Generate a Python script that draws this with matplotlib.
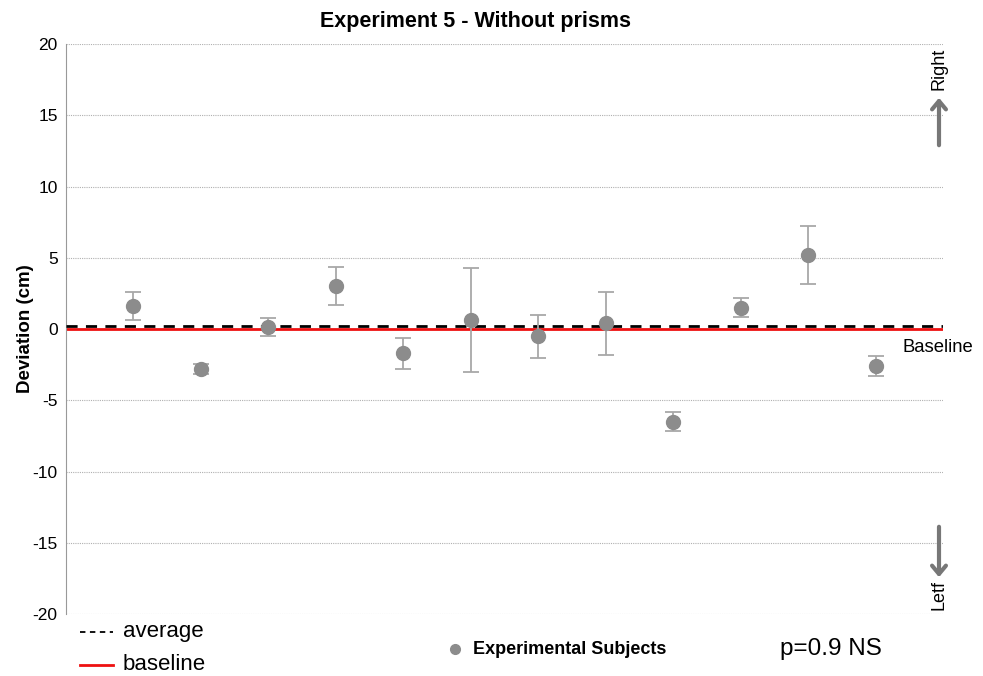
import numpy as np
import matplotlib
matplotlib.use("Agg")
import matplotlib.pyplot as plt

plt.rcParams['font.family'] = ['Liberation Sans', 'DejaVu Sans']

# subject index, mean deviation and error (cm)
subjects = np.arange(1, 13)
deviation = [1.6, -2.8, 0.15, 3.0, -1.7, 0.6, -0.5, 0.4, -6.5, 1.5, 5.2, -2.6]
error = [1.0, 0.35, 0.65, 1.35, 1.1, 3.65, 1.5, 2.2, 0.65, 0.65, 2.05, 0.7]
average = 0.2
baseline = 0.0
yticks = [-20, -15, -10, -5, 0, 5, 10, 15, 20]

fig = plt.figure(figsize=(9.83, 6.76), dpi=100)
ax = fig.add_axes([0.0671, 0.0917, 0.8922, 0.8432])

ax.set_xlim(0, 13)
ax.set_ylim(-20, 20)
ax.set_yticks(yticks)
ax.set_yticklabels([str(t) for t in yticks], fontsize=12.5)
ax.set_xticks([])
for t in yticks:
    ax.axhline(t, color='#b0b0b0', lw=0.8, ls=(0, (1, 1)), zorder=0)

for s in ['top', 'right', 'bottom']:
    ax.spines[s].set_visible(False)
ax.spines['left'].set_color('#999999')
ax.tick_params(axis='y', length=0, pad=6)

ax.axhline(baseline, color='#ee1111', lw=2, zorder=2)
ax.axhline(average, color='black', lw=2, ls=(0, (4, 3)), zorder=3)

ax.errorbar(subjects, deviation, yerr=error, fmt='o', color='#8c8c8c',
            ecolor='#a8a8a8', elinewidth=1.3, capsize=6, capthick=1.3,
            markersize=10, zorder=4)

ax.set_ylabel('Deviation (cm)', fontsize=13.5, fontweight='bold')
ax.yaxis.set_label_coords(-0.036, 0.5)

fig.text(475 / 983, 1 - 22 / 676, 'Experiment 5 - Without prisms',
         ha='center', va='center', fontsize=15.5, fontweight='bold')

# baseline label and direction arrows
fig.text(902 / 983, 1 - 348 / 676, 'Baseline', ha='left', va='center', fontsize=13.3)
fig.text(939 / 983, 1 - 69 / 676, 'Right', rotation=90, ha='center', va='center', fontsize=13)
fig.text(939 / 983, 1 - 595 / 676, 'Letf', rotation=90, ha='center', va='center', fontsize=13)
fig.patches.append(matplotlib.patches.FancyArrowPatch(
    (939 / 983, 1 - 148 / 676), (939 / 983, 1 - 95 / 676), transform=fig.transFigure,
    arrowstyle='->,head_width=5,head_length=6', color='#777777', lw=3, mutation_scale=1))
fig.patches.append(matplotlib.patches.FancyArrowPatch(
    (939 / 983, 1 - 524 / 676), (939 / 983, 1 - 580 / 676), transform=fig.transFigure,
    arrowstyle='->,head_width=5,head_length=6', color='#777777', lw=3, mutation_scale=1))

# legend-like annotations at the bottom
fig.lines.append(matplotlib.lines.Line2D([80 / 983, 113 / 983], [1 - 632 / 676] * 2,
                                         transform=fig.transFigure, color='black',
                                         lw=1.3, ls=(0, (3, 2.5))))
fig.text(123 / 983, 1 - 632 / 676, 'average', ha='left', va='center', fontsize=16)
fig.lines.append(matplotlib.lines.Line2D([80 / 983, 113 / 983], [1 - 665 / 676] * 2,
                                         transform=fig.transFigure, color='#ee1111', lw=2))
fig.text(123 / 983, 1 - 665 / 676, 'baseline', ha='left', va='center', fontsize=16)
fig.lines.append(matplotlib.lines.Line2D([455 / 983], [1 - 649 / 676],
                                         transform=fig.transFigure, marker='o',
                                         color='#8c8c8c', markersize=7))
fig.text(473 / 983, 1 - 649 / 676, 'Experimental Subjects', ha='left', va='center',
         fontsize=13, fontweight='bold')
fig.text(780 / 983, 1 - 649 / 676, 'p=0.9 NS', ha='left', va='center', fontsize=17.5)

fig.savefig('out.png', dpi=100)
